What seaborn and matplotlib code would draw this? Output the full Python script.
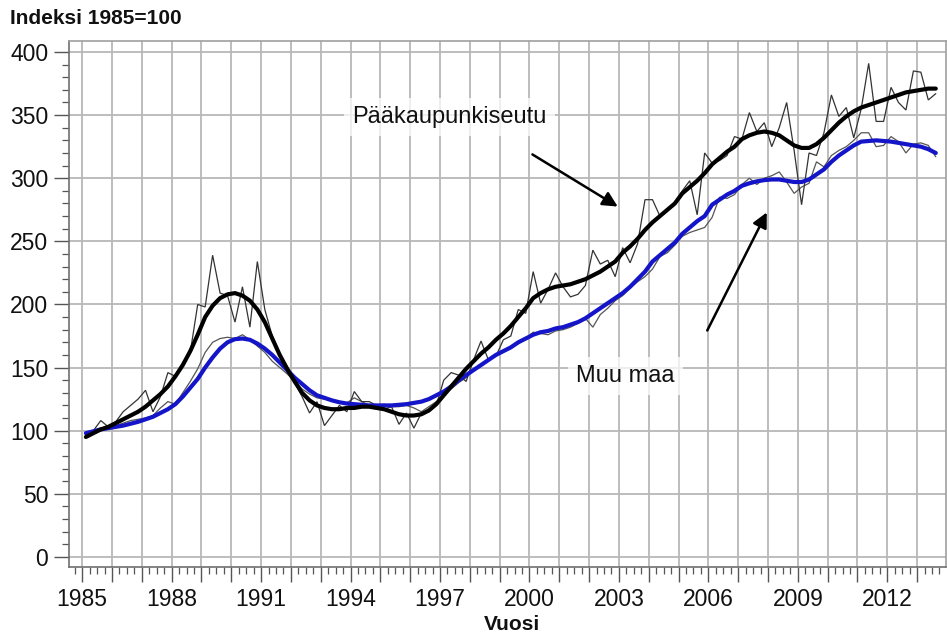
"""
Asuntojen hintaindeksi 1985=100: Pääkaupunkiseutu vs. Muu maa.
Quarterly index (thin lines) and smoothed trend (thick lines).
"""

import numpy as np
import pandas as pd
import matplotlib
matplotlib.use("Agg")
import matplotlib.pyplot as plt
from matplotlib.ticker import MultipleLocator, FixedLocator, FuncFormatter
import seaborn as sns

# === Data: quarters 1985Q1 ... 2013Q3 ===

periods = pd.period_range("1985Q1", "2013Q3", freq="Q")

pks_raw = [
    95, 100, 108, 103,   107, 115, 120, 125,   132, 115, 127, 146,
    143, 154, 162, 200,  198, 239, 209, 207,   186, 214, 182, 234,
    196, 175, 159, 146,  138, 127, 114, 123,   104, 112, 120, 115,
    131, 123, 123, 120,  117, 119, 105, 114,   102, 114, 115, 120,
    140, 146, 144, 139,  156, 171, 156, 159,   172, 175, 196, 193,
    226, 201, 212, 225,  214, 206, 208, 215,   243, 232, 235, 222,
    245, 233, 248, 283,  283, 270, 276, 280,   290, 298, 271, 320,
    312, 314, 318, 333,  331, 352, 337, 344,   325, 340, 360, 322,
    279, 320, 318, 336,  366, 349, 356, 332,   355, 391, 345, 345,
    372, 360, 354, 385,  384, 362, 367,
]

pks_trend = [
    95, 98, 101, 103,    106, 109, 112, 115,   119, 124, 129, 135,
    143, 152, 163, 176,  190, 199, 205, 208,   209, 207, 203, 196,
    186, 173, 160, 149,  139, 130, 124, 120,   118, 117, 117, 118,
    118, 119, 119, 118,  117, 115, 113, 112,   112, 113, 116, 121,
    128, 135, 142, 149,  155, 161, 166, 172,   177, 183, 190, 197,
    205, 209, 212, 214,  215, 216, 218, 220,   223, 226, 230, 234,
    241, 246, 252, 259,  265, 270, 275, 280,   288, 293, 298, 304,
    311, 316, 321, 325,  331, 334, 336, 337,   336, 334, 330, 326,
    324, 324, 327, 332,  338, 344, 349, 353,   356, 358, 360, 362,
    364, 366, 368, 369,  370, 371, 371,
]

muu_raw = [
    98, 100, 102, 103,   104, 106, 108, 109,   110, 112, 118, 123,
    121, 130, 139, 149,  162, 170, 173, 174,   173, 176, 172, 167,
    162, 155, 150, 145,  139, 133, 129, 126,   125, 124, 122, 122,
    126, 123, 120, 120,  121, 119, 119, 120,   118, 115, 119, 123,
    128, 133, 138, 142,  148, 151, 156, 160,   163, 166, 169, 173,
    178, 177, 176, 179,  180, 182, 185, 189,   182, 192, 197, 203,
    207, 213, 218, 222,  228, 238, 241, 247,   254, 257, 259, 261,
    269, 285, 284, 287,  295, 300, 295, 300,   302, 305, 297, 288,
    293, 296, 313, 309,  318, 322, 325, 330,   336, 336, 325, 326,
    333, 329, 320, 327,  328, 326, 317,
]

muu_trend = [
    98, 99.5, 101, 102,  103, 104, 105.5, 107, 109, 111, 114, 117,
    121, 127, 134, 141,  150, 158, 165, 170,   172.5, 173, 172, 169,
    165, 160, 154, 148,  142, 137, 132, 128,   126, 124, 122.5, 121.5,
    121, 120.5, 120, 120, 120, 120, 120.5, 121, 122, 123, 125, 128,
    131, 135, 140, 144,  148, 152, 156, 160,   163, 166, 170, 173,
    176, 178, 179, 181,  182, 184, 186, 189,   193, 197, 201, 205,
    209, 214, 220, 226,  234, 239, 244, 249,   256, 261, 266, 270,
    279, 283, 287, 290,  294, 296, 297.5, 298.5, 299, 299, 298, 297,
    297, 299, 303, 307,  313, 318, 322, 326,   329, 329.5, 330, 329.5,
    329, 328, 327, 326,  325, 323, 320,
]

year_labels = [1985, 1988, 1991, 1994, 1997, 2000, 2003, 2006, 2009, 2012]

# position each quarter at its middle, in decimal years
df = pd.DataFrame({
    "vuosi": [p.year + (p.quarter - 0.5) / 4 for p in periods],
    "pks_raw": pks_raw,
    "pks_trend": pks_trend,
    "muu_raw": muu_raw,
    "muu_trend": muu_trend,
})

# === Style ===

sns.set_style("white")
plt.rcParams["font.family"] = ["Liberation Sans", "DejaVu Sans"]

fig = plt.figure(figsize=(9.47, 6.34), dpi=100)
ax = fig.add_axes([0.0729, 0.1057, 0.9261, 0.8296])

# === Lines ===

thin = dict(linewidth=0.9, solid_joinstyle="miter")
thick = dict(linewidth=3.0, solid_joinstyle="round", solid_capstyle="round")

sns.lineplot(data=df, x="vuosi", y="muu_raw", color="#555555", ax=ax, zorder=3, **thin)
sns.lineplot(data=df, x="vuosi", y="pks_raw", color="#333333", ax=ax, zorder=3, **thin)
sns.lineplot(data=df, x="vuosi", y="muu_trend", color="#1414c8", ax=ax, zorder=4, **thick)
sns.lineplot(data=df, x="vuosi", y="pks_trend", color="black", ax=ax, zorder=5, **thick)

# === Axes, ticks and grid ===

ax.set_xlim(1984.56, 2013.97)
ax.set_ylim(-8, 408.7)

ax.xaxis.set_major_locator(FixedLocator(range(1985, 2014)))
ax.xaxis.set_minor_locator(MultipleLocator(0.25))
ax.xaxis.set_major_formatter(FuncFormatter(lambda v, p: f"{int(round(v))}" if int(round(v)) in year_labels else ""))
ax.yaxis.set_major_locator(MultipleLocator(50))
ax.yaxis.set_minor_locator(MultipleLocator(10))

ax.tick_params(axis="both", which="major", direction="out", length=11, width=1.0,
               color="#555555", labelsize=16.5, labelcolor="#111111", pad=4)
ax.tick_params(axis="both", which="minor", direction="out", length=5, width=0.9, color="#555555")
ax.tick_params(axis="y", which="both", left=True)
ax.tick_params(axis="x", which="both", bottom=True)

ax.grid(True, which="major", color="#b8b8b8", linewidth=1.3, zorder=0)
ax.set_axisbelow(True)

for side in ["top", "right"]:
    ax.spines[side].set_color("#a0a0a0")
    ax.spines[side].set_linewidth(1.2)
for side in ["left", "bottom"]:
    ax.spines[side].set_color("#707070")
    ax.spines[side].set_linewidth(1.2)

ax.set_xlabel("")
ax.set_ylabel("")

# === Texts and arrows ===

fig.text(10 / 947, 1 - 18 / 634, "Indeksi 1985=100", fontsize=15, fontweight="bold",
         color="#111111", ha="left", va="center")
fig.text(512 / 947, 1 - 625 / 634, "Vuosi", fontsize=15, fontweight="bold",
         color="#111111", ha="center", va="center")

box = dict(facecolor="white", edgecolor="none", alpha=0.75, pad=6)
ax.text(1994.05, 348.5, "Pääkaupunkiseutu", fontsize=17, color="#111111",
        ha="left", va="center", bbox=box, zorder=2)
ax.text(2001.56, 143.4, "Muu maa", fontsize=17, color="#111111",
        ha="left", va="center", bbox=box, zorder=2)

arrow = dict(arrowstyle="-|>,head_length=0.9,head_width=0.45", color="black", linewidth=1.8)
ax.annotate("", xy=(2003.04, 276.4), xytext=(2000.02, 320), arrowprops=arrow, zorder=6)
ax.annotate("", xy=(2008.0, 274.9), xytext=(2005.92, 177.4), arrowprops=arrow, zorder=6)

fig.savefig("out.png", dpi=100)
